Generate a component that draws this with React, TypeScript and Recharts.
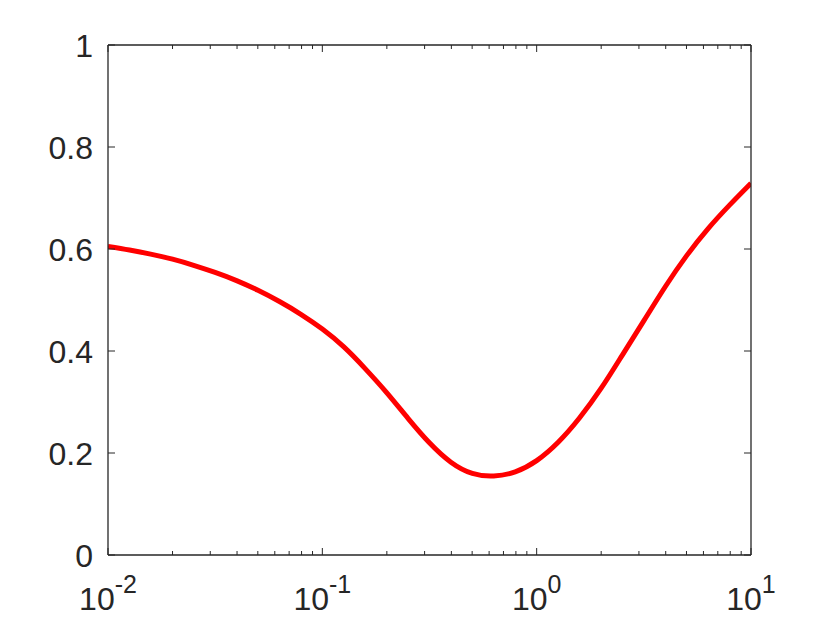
import { Line, LineChart, XAxis, YAxis } from "recharts";

// values (x on a log scale)
const xValues = [
  0.01, 0.0126, 0.0158, 0.02, 0.0251, 0.0316, 0.0398, 0.0501, 0.0631, 0.0794, 0.1, 0.126, 0.158, 0.2,
  0.251, 0.316, 0.398, 0.501, 0.631, 0.794, 1, 1.26, 1.58, 2, 2.51, 3.16, 3.98, 5.01, 6.31, 7.94, 10,
];
const yValues = [
  0.605, 0.598, 0.59, 0.58, 0.568, 0.554, 0.538, 0.519, 0.497, 0.472, 0.443, 0.408, 0.366, 0.318, 0.268,
  0.22, 0.182, 0.16, 0.155, 0.163, 0.185, 0.221, 0.268, 0.327, 0.392, 0.459, 0.526, 0.587, 0.64, 0.686,
  0.729,
];

const xTicks = [
  0.01, 0.02, 0.03, 0.04, 0.05, 0.06, 0.07, 0.08, 0.09, 0.1, 0.2, 0.3, 0.4, 0.5, 0.6, 0.7, 0.8, 0.9, 1,
  2, 3, 4, 5, 6, 7, 8, 9, 10,
];
const xDecades = [0.01, 0.1, 1, 10];
const decadeLabels = ["-2", "-1", "0", "1"];
const yTicks = [0, 0.2, 0.4, 0.6, 0.8, 1];
const yLabels = ["0", "0.2", "0.4", "0.6", "0.8", "1"];

const data = xValues.map((x, i) => ({ x, y: yValues[i] }));

const INK = "#262626";
const FONT = "'Liberation Sans', Arial, Helvetica, sans-serif";

function decadeIndex(v: number) {
  return xDecades.findIndex((d) => Math.abs(d - v) < d * 1e-6);
}

function BottomTick(props: any) {
  const { x, y, payload } = props;
  const idx = decadeIndex(payload.value);
  const len = idx >= 0 ? 7 : 4;
  return (
    <g>
      <line x1={x} x2={x} y1={y} y2={y - len} stroke={INK} strokeWidth={1} />
      {idx >= 0 && (
        <text x={x} y={y + 55} textAnchor="middle" fill={INK} fontSize={32} fontFamily={FONT}>
          <tspan>10</tspan>
          <tspan dy={-17} fontSize={25}>
            {decadeLabels[idx]}
          </tspan>
        </text>
      )}
    </g>
  );
}

function TopTick(props: any) {
  const { x, y, payload } = props;
  const len = decadeIndex(payload.value) >= 0 ? 7 : 4;
  return <line x1={x} x2={x} y1={y} y2={y + len} stroke={INK} strokeWidth={1} />;
}

function LeftTick(props: any) {
  const { x, y, payload } = props;
  const idx = yTicks.indexOf(payload.value);
  return (
    <g>
      <line x1={x} x2={x + 7} y1={y} y2={y} stroke={INK} strokeWidth={1} />
      <text x={x - 15} y={y + 12} textAnchor="end" fill={INK} fontSize={32} fontFamily={FONT}>
        {yLabels[idx]}
      </text>
    </g>
  );
}

function RightTick(props: any) {
  const { x, y } = props;
  return <line x1={x} x2={x - 7} y1={y} y2={y} stroke={INK} strokeWidth={1} />;
}

export default function App() {
  return (
    <div style={{ position: "absolute", left: 0, top: 0, width: 830, height: 623, background: "#fff" }}>
      <LineChart width={830} height={623} data={data} margin={{ top: 44, right: 78, bottom: 0, left: 0 }}>
        <XAxis
          dataKey="x"
          type="number"
          scale="log"
          domain={[0.01, 10]}
          ticks={xTicks}
          interval={0}
          allowDataOverflow
          height={68}
          tickSize={0}
          tickMargin={0}
          tickLine={false}
          axisLine={{ stroke: INK, strokeWidth: 1.3 }}
          tick={<BottomTick />}
        />
        <XAxis
          xAxisId="top"
          orientation="top"
          dataKey="x"
          type="number"
          scale="log"
          domain={[0.01, 10]}
          ticks={xTicks}
          interval={0}
          allowDataOverflow
          height={1}
          tickSize={0}
          tickMargin={0}
          tickLine={false}
          axisLine={{ stroke: INK, strokeWidth: 1.3 }}
          tick={<TopTick />}
        />
        <YAxis
          type="number"
          domain={[0, 1]}
          ticks={yTicks}
          interval={0}
          width={108}
          tickSize={0}
          tickMargin={0}
          tickLine={false}
          axisLine={{ stroke: INK, strokeWidth: 1.3 }}
          tick={<LeftTick />}
        />
        <YAxis
          yAxisId="right"
          orientation="right"
          type="number"
          domain={[0, 1]}
          ticks={yTicks}
          interval={0}
          width={1}
          tickSize={0}
          tickMargin={0}
          tickLine={false}
          axisLine={{ stroke: INK, strokeWidth: 1.3 }}
          tick={<RightTick />}
        />
        {/* frame helper so the top and right axes are drawn */}
        <Line
          xAxisId="top"
          yAxisId="right"
          dataKey="y"
          stroke="none"
          dot={false}
          activeDot={false}
          legendType="none"
          isAnimationActive={false}
        />
        <Line
          dataKey="y"
          type="natural"
          stroke="#ff0000"
          strokeWidth={5}
          dot={false}
          isAnimationActive={false}
        />
      </LineChart>
    </div>
  );
}
